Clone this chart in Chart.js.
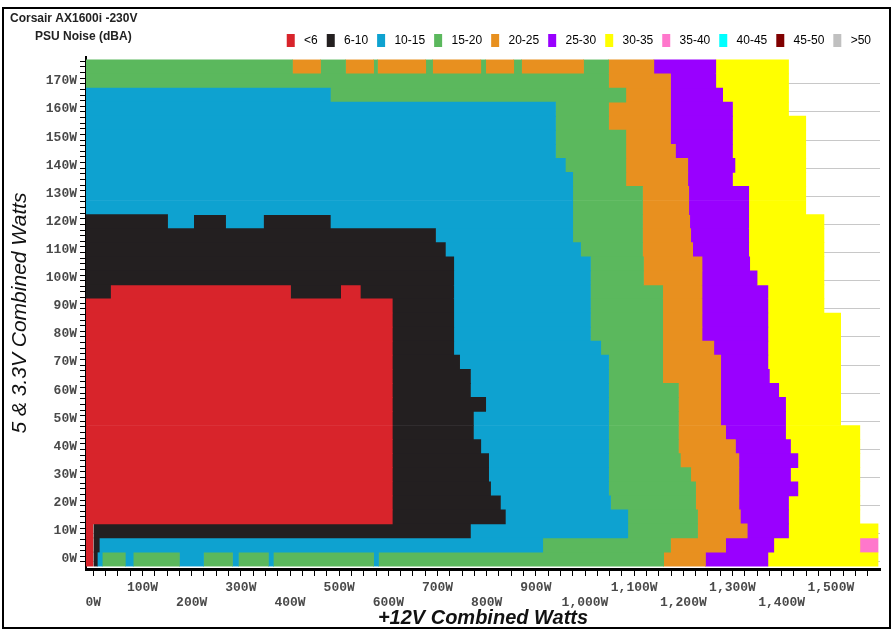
<!DOCTYPE html>
<html>
<head>
<meta charset="utf-8">
<script src="https://cdn.jsdelivr.net/npm/chart.js@4.4.0/dist/chart.umd.min.js"></script>
<style>
  html, body { margin: 0; padding: 0; background: #fff; }
  #wrap { position: relative; width: 894px; height: 630px; }
</style>
</head>
<body>
<div id="wrap"><canvas id="noise-map" width="894" height="630"></canvas></div>
<script>
// noise bands (dBA) in legend order
const bands = ['<6', '6-10', '10-15', '15-20', '20-25', '25-30', '30-35', '35-40', '40-45', '45-50', '>50'];
const bandColors = ['#d8242b', '#231f20', '#0ea2d0', '#5bb85d', '#e8901f', '#9900ff', '#ffff00', '#ff77cc', '#00ffff', '#800000', '#c0c0c0'];
const R = 0, K = 1, B = 2, G = 3, O = 4, P = 5, Y = 6, N = 7;

// axis ranges (W) and tick marks
const X_MIN = -15, X_MAX = 1600;
const Y_MIN = -2.5, Y_MAX = 177.5;
const xTicks = [];
for (let v = 0; v <= 1575; v += 25) xTicks.push(v);
const yTicks = [];
for (let v = 0; v <= 176; v += 2) yTicks.push(v);

// 5 & 3.3V load of each row (W)
const rowLoads = [175, 170, 165, 160, 155, 150, 145, 140, 135, 130, 125, 120, 115, 110, 105, 100,
  95, 90, 85, 80, 75, 70, 65, 60, 55, 50, 45, 40, 35, 30, 25, 20, 15, 10, 5, 0];

// per row: band, +12V watts where that band ends, band, end, ... (starting at the left edge)
const rowRuns = [
  [G,405, O,462, G,513, O,570, G,578, O,676, G,690, O,788, G,798, O,855, G,871, O,997, G,1048, O,1140, P,1266, Y,1414],
  [G,1048, O,1174, P,1266, Y,1414],
  [B,482, G,1083, O,1174, P,1280, Y,1414],
  [B,940, G,1048, O,1174, P,1300, Y,1414],
  [B,940, G,1048, O,1174, P,1300, Y,1449],
  [B,940, G,1083, O,1174, P,1300, Y,1449],
  [B,940, G,1083, O,1184, P,1300, Y,1449],
  [B,960, G,1083, O,1209, P,1305, Y,1449],
  [B,975, G,1083, O,1209, P,1300, Y,1449],
  [B,975, G,1117, O,1211, P,1333, Y,1449],
  [B,975, G,1117, O,1211, P,1333, Y,1449],
  [K,151, B,204, K,269, B,346, K,482, B,975, G,1117, O,1213, P,1333, Y,1486],
  [K,696, B,975, G,1117, O,1215, P,1333, Y,1486],
  [K,716, B,991, G,1117, O,1219, P,1333, Y,1486],
  [K,733, B,1011, G,1119, O,1238, P,1335, Y,1486],
  [K,733, B,1011, G,1119, O,1238, P,1350, Y,1486],
  [K,35, R,401, K,503, R,543, K,733, B,1011, G,1158, O,1238, P,1372, Y,1486],
  [R,608, K,733, B,1011, G,1158, O,1238, P,1372, Y,1486],
  [R,608, K,733, B,1011, G,1158, O,1238, P,1372, Y,1520],
  [R,608, K,733, B,1011, G,1158, O,1238, P,1372, Y,1520],
  [R,608, K,733, B,1032, G,1158, O,1262, P,1372, Y,1520],
  [R,608, K,745, B,1048, G,1158, O,1276, P,1372, Y,1520],
  [R,608, K,767, B,1048, G,1158, O,1276, P,1375, Y,1520],
  [R,608, K,767, B,1048, G,1190, O,1276, P,1394, Y,1520],
  [R,608, K,798, B,1048, G,1190, O,1276, P,1408, Y,1520],
  [R,608, K,773, B,1048, G,1190, O,1276, P,1408, Y,1520],
  [R,608, K,773, B,1048, G,1190, O,1286, P,1408, Y,1559],
  [R,608, K,788, B,1048, G,1190, O,1306, P,1418, Y,1559],
  [R,608, K,804, B,1048, G,1194, O,1313, P,1433, Y,1559],
  [R,608, K,804, B,1048, G,1215, O,1313, P,1418, Y,1559],
  [R,608, K,808, B,1048, G,1225, O,1313, P,1433, Y,1559],
  [R,608, K,828, B,1052, G,1225, O,1313, P,1414, Y,1559],
  [R,608, K,838, B,1087, G,1229, O,1316, P,1414, Y,1559],
  [R,0, K,767, B,1087, G,1229, O,1330, P,1414, Y,1596],
  [R,0, K,12, B,914, G,1174, O,1286, P,1384, Y,1559, N,1596],
  [R,0, K,8, B,18, G,65, B,81, G,175, B,224, G,283, B,295, G,356, B,366, G,570, B,580, G,1160, O,1245, P,1372, Y,1596]
];

// one floating-bar dataset per run position (1st run of every row, 2nd run, ...);
// rows with fewer runs get an empty bar so each dataset keeps all rows
const maxRuns = Math.max(...rowRuns.map(r => r.length / 2));
const datasets = [];
for (let s = 0; s < maxRuns; s++) {
  const data = [];
  const colors = [];
  rowRuns.forEach((runs, i) => {
    if (s * 2 >= runs.length) {
      const last = runs[runs.length - 1];
      data.push({ x: [last, last], y: rowLoads[i] });
      colors.push('rgba(0,0,0,0)');
      return;
    }
    const start = s === 0 ? X_MIN : runs[s * 2 - 1];
    data.push({ x: [start, runs[s * 2 + 1]], y: rowLoads[i] });
    colors.push(bandColors[runs[s * 2]]);
  });
  datasets.push({
    data: data,
    backgroundColor: colors,
    borderWidth: 0,
    barThickness: 'flex',
    barPercentage: 1,
    categoryPercentage: 1
  });
}

const tickFont = { family: '"Liberation Mono", monospace', size: 13, weight: 'bold', lineHeight: 1.1 };

// heading + outer frame
const chartFrame = {
  id: 'chartFrame',
  afterDraw(chart) {
    const ctx = chart.ctx;
    ctx.save();
    ctx.strokeStyle = '#000';
    ctx.lineWidth = 2;
    ctx.strokeRect(3, 8, 887, 620);
    ctx.fillStyle = '#222';
    ctx.font = 'bold 12px "Liberation Sans", Arial, sans-serif';
    ctx.textBaseline = 'middle';
    ctx.fillText('Corsair AX1600i -230V', 10, 19);
    ctx.fillText('PSU Noise (dBA)', 35, 37);
    ctx.restore();
  }
};

new Chart(document.getElementById('noise-map'), {
  type: 'bar',
  data: { datasets: datasets },
  options: {
    indexAxis: 'y',
    responsive: false,
    animation: false,
    events: [],
    layout: { padding: { top: 6, right: 14, left: 0, bottom: 0 } },
    plugins: {
      tooltip: { enabled: false },
      legend: {
        position: 'top',
        align: 'end',
        onClick: () => {},
        labels: {
          boxWidth: 8,
          boxHeight: 13,
          padding: 9,
          color: '#222',
          font: { family: '"Liberation Sans", Arial, sans-serif', size: 12 },
          generateLabels: () => bands.map((b, i) => ({
            text: ' ' + b,
            fillStyle: bandColors[i],
            strokeStyle: bandColors[i],
            lineWidth: 0,
            hidden: false
          }))
        }
      }
    },
    scales: {
      x: {
        type: 'linear',
        stacked: false,
        min: X_MIN,
        max: X_MAX,
        afterBuildTicks: (scale) => { scale.ticks = xTicks.map(v => ({ value: v })); },
        afterFit: (scale) => { scale.height = 61; },
        border: { color: '#000', width: 3 },
        grid: { color: 'rgba(0,0,0,0)', tickColor: '#000', tickLength: 7, tickWidth: 1 },
        ticks: {
          autoSkip: false,
          maxRotation: 0,
          padding: 5,
          color: '#4a4a4a',
          font: tickFont,
          callback: (v) => {
            if (v % 100 !== 0) return '';
            const lbl = v.toLocaleString('en-US') + 'W';
            return (v / 100) % 2 ? lbl : ['', lbl];
          }
        },
        title: {
          display: true,
          text: '+12V Combined Watts',
          color: '#111',
          padding: { top: 0, bottom: 0 },
          font: { family: '"Liberation Sans", Arial, sans-serif', size: 20, weight: 'bold', style: 'italic' }
        }
      },
      y: {
        type: 'linear',
        stacked: true,
        min: Y_MIN,
        max: Y_MAX,
        afterBuildTicks: (scale) => { scale.ticks = yTicks.map(v => ({ value: v })); },
        afterFit: (scale) => { scale.width = 86; scale.paddingTop = 57; },
        border: { color: '#000', width: 2 },
        grid: {
          color: (c) => (c.tick && c.tick.value % 10 === 0 ? '#c8c8c8' : 'rgba(0,0,0,0)'),
          tickColor: '#000',
          tickLength: 6,
          tickWidth: 1
        },
        ticks: {
          autoSkip: false,
          padding: 3,
          color: '#4a4a4a',
          font: tickFont,
          callback: (v) => (v % 10 === 0 ? v + 'W' : '')
        },
        title: {
          display: true,
          text: '5 & 3.3V Combined Watts',
          color: '#111',
          padding: { top: 8, bottom: 0 },
          font: { family: '"Liberation Sans", Arial, sans-serif', size: 21, style: 'italic' }
        }
      }
    }
  },
  plugins: [chartFrame]
});
</script>
</body>
</html>
